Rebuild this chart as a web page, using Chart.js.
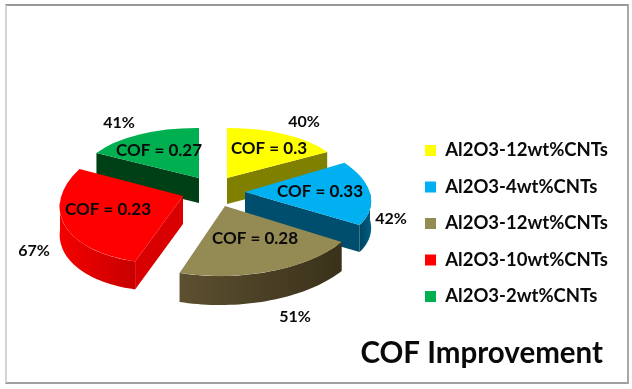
<!DOCTYPE html>
<html>
<head>
<meta charset="utf-8">
<style>
  html, body { margin: 0; padding: 0; background: #fff; }
  #wrap { position: relative; width: 632px; height: 389px; overflow: hidden; }
  #frame { position: absolute; left: 5px; top: 4px; width: 620px; height: 376px;
    border-style: solid; border-width: 2px 2px 2px 2px;
    border-color: #989898 #a8a8a8 #a0a0a0 #d4d4d4; }
  canvas { position: absolute; left: 0; top: 0; }
</style>
<script src="https://cdn.jsdelivr.net/npm/chart.js@4/dist/chart.umd.min.js"></script>
</head>
<body>
<div id="wrap"><canvas id="chart" width="632" height="389"></canvas><div id="frame"></div></div>
<script>
  const categories = ['Al2O3-12wt%CNTs', 'Al2O3-4wt%CNTs', 'Al2O3-12wt%CNTs', 'Al2O3-10wt%CNTs', 'Al2O3-2wt%CNTs'];
  const percentValues = [40, 42, 51, 67, 41];
  const cofValues = [0.3, 0.33, 0.28, 0.23, 0.27];
  const sliceColors = ['#ffff00', '#00b0f0', '#948a54', '#ff0000', '#00b050'];

  // look of the fake 3D pie, one entry per slice
  const apex = [[227, 178], [245, 192], [225, 206], [183, 196], [199, 178]];
  // sin/cos weights of the squashed circle: [a, b, c, d]
  const squash = [[116, 0, 1, 50], [125, -17, -1, 60], [139, 1, 2, 70], [123, 9, 6, 67], [117, 0, -1, 50]];
  const depth = [26, 27, 29, 28, 25];
  const cutColors = ['#808000', '#004e6e', '#4a4022', '#d80000', '#004016'];
  const rimColors = [['#808000', '#808000'], ['#00445f', '#005f85'], ['#5c5030', '#39311a'], ['#f40000', '#c80000'], ['#004016', '#004016']];
  const drawOrder = [0, 4, 3, 1, 2];

  const cofPos = [[269, 149], [320, 192], [255, 239], [108, 210], [159, 151]];
  const pctPos = [[304, 122], [391, 219], [295, 317], [34, 251], [119, 123]];
  const FONT = 'Lato, "Open Sans", sans-serif';

  function proj(i, theta, dy) {
    const s = squash[i];
    return [
      apex[i][0] + s[0] * Math.sin(theta) + s[1] * Math.cos(theta),
      apex[i][1] - s[2] * Math.sin(theta) - s[3] * Math.cos(theta) + (dy || 0)
    ];
  }

  function drawCutFace(ctx, i, theta) {
    const p = proj(i, theta);
    ctx.fillStyle = cutColors[i];
    ctx.beginPath();
    ctx.moveTo(apex[i][0], apex[i][1]);
    ctx.lineTo(p[0], p[1]);
    ctx.lineTo(p[0], p[1] + depth[i]);
    ctx.lineTo(apex[i][0], apex[i][1] + depth[i]);
    ctx.closePath();
    ctx.fill();
  }

  function drawSides(ctx, el, i) {
    const t1 = el.startAngle + Math.PI / 2;
    const t2 = el.endAngle + Math.PI / 2;
    // cut faces, only the ones turned to the viewer
    if (Math.cos(t1 - Math.PI / 2) < -0.01) drawCutFace(ctx, i, t1);
    if (Math.cos(t2 + Math.PI / 2) < -0.01) drawCutFace(ctx, i, t2);
    // outer rim, front half only
    const from = Math.max(t1, Math.PI / 2);
    const to = Math.min(t2, Math.PI * 1.5);
    if (to <= from) return;
    const steps = 40;
    const top = [];
    for (let k = 0; k <= steps; k++) top.push(proj(i, from + (to - from) * k / steps));
    const xs = top.map(p => p[0]);
    const g = ctx.createLinearGradient(Math.min(...xs), 0, Math.max(...xs), 0);
    g.addColorStop(0, rimColors[i][0]);
    g.addColorStop(1, rimColors[i][1]);
    ctx.fillStyle = g;
    ctx.beginPath();
    top.forEach((p, k) => k ? ctx.lineTo(p[0], p[1]) : ctx.moveTo(p[0], p[1]));
    for (let k = steps; k >= 0; k--) ctx.lineTo(top[k][0], top[k][1] + depth[i]);
    ctx.closePath();
    ctx.fill();
  }

  class Pie3D extends Chart.PieController {
    static id = 'pie3d';
    draw() {
      const ctx = this.chart.ctx;
      const arcs = this.getMeta().data;
      drawOrder.forEach(i => {
        const el = arcs[i];
        drawSides(ctx, el, i);
        const s = squash[i], r = el.outerRadius;
        ctx.save();
        ctx.translate(apex[i][0], apex[i][1]);
        ctx.transform(s[0] / r, -s[2] / r, -s[1] / r, s[3] / r, 0, 0);
        ctx.translate(-el.x, -el.y);
        el.draw(ctx, this.chart.chartArea);
        ctx.restore();
      });
    }
  }
  Chart.register(Pie3D);

  const sliceText = {
    id: 'sliceText',
    afterLayout(chart) {
      // legend sits further right than the title
      chart.legend.left += 15;
      chart.legend.right += 15;
    },
    afterDatasetsDraw(chart) {
      const ctx = chart.ctx;
      ctx.save();
      ctx.fillStyle = '#0a0a0a';
      ctx.textAlign = 'center';
      ctx.textBaseline = 'middle';
      ctx.font = 'bold 17px ' + FONT;
      cofValues.forEach((v, i) => ctx.fillText('COF = ' + v, cofPos[i][0], cofPos[i][1]));
      ctx.font = 'bold 16px ' + FONT;
      percentValues.forEach((v, i) => ctx.fillText(v + '%', pctPos[i][0], pctPos[i][1]));
      ctx.restore();
    }
  };

  new Chart(document.getElementById('chart'), {
    type: 'pie3d',
    data: {
      labels: categories,
      datasets: [{ data: percentValues, backgroundColor: sliceColors, borderWidth: 0 }]
    },
    options: {
      responsive: false,
      animation: false,
      layout: { padding: { top: 76, right: 29, bottom: 18 } },
      plugins: {
        tooltip: { enabled: false },
        title: {
          display: true,
          text: 'COF Improvement',
          position: 'bottom',
          align: 'end',
          color: '#0a0a0a',
          font: { family: FONT, size: 29.5, weight: 'bold' },
          padding: { top: 8, bottom: 0 }
        },
        legend: {
          position: 'right',
          align: 'center',
          labels: {
            color: '#0a0a0a',
            boxWidth: 11,
            boxHeight: 11,
            padding: 18,
            font: { family: FONT, size: 18.5, weight: 'bold' }
          }
        }
      }
    },
    plugins: [sliceText]
  });
</script>
</body>
</html>
